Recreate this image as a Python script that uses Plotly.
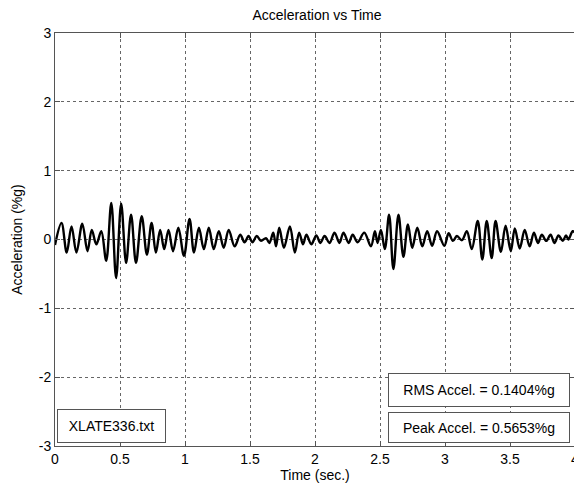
import plotly.graph_objects as go

# Extrema (time in sec., acceleration in %g)
time_s = [0.000, 0.050, 0.090, 0.127, 0.165, 0.210, 0.250, 0.283, 0.318, 0.356,
          0.394, 0.433, 0.470, 0.509, 0.547, 0.585, 0.623, 0.667, 0.707, 0.743,
          0.776, 0.809, 0.840, 0.873, 0.908, 0.949, 0.992, 1.035, 1.069, 1.107,
          1.145, 1.183, 1.221, 1.260, 1.298, 1.336, 1.382, 1.425, 1.458, 1.489,
          1.519, 1.552, 1.585, 1.623, 1.649, 1.679, 1.700, 1.725, 1.761, 1.807,
          1.845, 1.878, 1.908, 1.934, 1.972, 2.010, 2.041, 2.074, 2.112, 2.150,
          2.188, 2.219, 2.259, 2.290, 2.328, 2.379, 2.430, 2.461, 2.481, 2.507,
          2.537, 2.570, 2.603, 2.642, 2.680, 2.715, 2.748, 2.787, 2.825, 2.863,
          2.901, 2.939, 2.995, 3.028, 3.061, 3.092, 3.130, 3.168, 3.206, 3.252,
          3.287, 3.321, 3.359, 3.389, 3.430, 3.466, 3.506, 3.537, 3.575, 3.613,
          3.651, 3.684, 3.715, 3.745, 3.779, 3.812, 3.842, 3.873, 3.906, 3.931,
          3.949, 3.982, 4.000]
accel_pct_g = [-0.08, 0.24, -0.19, 0.19, -0.19, 0.23, -0.17, 0.14, -0.07, 0.12,
               -0.31, 0.53, -0.56, 0.52, -0.34, 0.36, -0.34, 0.34, -0.22, 0.24,
               -0.19, 0.14, -0.14, 0.14, -0.17, 0.17, -0.24, 0.30, -0.19, 0.17,
               -0.14, 0.17, -0.14, 0.12, -0.12, 0.14, -0.10, 0.07, -0.04, 0.05,
               -0.04, 0.05, -0.02, 0.02, -0.05, 0.10, -0.10, 0.17, -0.12, 0.19,
               -0.19, 0.10, -0.07, 0.07, -0.07, 0.06, -0.05, 0.05, -0.05, 0.10,
               -0.05, 0.10, -0.05, 0.07, -0.04, 0.10, -0.10, 0.12, -0.05, 0.14,
               -0.14, 0.36, -0.43, 0.36, -0.25, 0.22, -0.12, 0.17, -0.10, 0.12,
               -0.09, 0.12, -0.09, 0.09, -0.02, 0.05, -0.01, 0.12, -0.14, 0.27,
               -0.29, 0.27, -0.27, 0.27, -0.18, 0.20, -0.17, 0.16, -0.13, 0.14,
               -0.10, 0.10, -0.05, 0.07, -0.02, 0.07, -0.05, 0.06, -0.02, 0.06,
               0.00, 0.12, 0.10]

x_ticks = [0, 0.5, 1, 1.5, 2, 2.5, 3, 3.5, 4]
x_tick_labels = ["0", "0.5", "1", "1.5", "2", "2.5", "3", "3.5", "4"]
y_ticks = [-3, -2, -1, 0, 1, 2, 3]
y_tick_labels = ["-3", "-2", "-1", "0", "1", "2", "3"]

file_label = "XLATE336.txt"
rms_label = "RMS Accel. = 0.1404%g"
peak_label = "Peak Accel. = 0.5653%g"

FONT = "Liberation Sans, Arial, Helvetica, sans-serif"
FS = 14

fig = go.Figure()
fig.add_trace(go.Scatter(
    x=time_s, y=accel_pct_g, mode="lines",
    line=dict(color="black", width=2.4, shape="spline", smoothing=1.0),
    hoverinfo="skip", showlegend=False,
))

axis_common = dict(
    showline=True, linecolor="#555555", linewidth=1, mirror="ticks",
    ticks="inside", ticklen=5, tickcolor="#555555",
    showgrid=True, gridcolor="#666666", griddash="dot", gridwidth=1,
    zeroline=False, tickfont=dict(family=FONT, size=FS, color="black"),
    ticklabeloverflow="allow",
)

fig.update_xaxes(range=[0, 4], tickvals=x_ticks, ticktext=x_tick_labels,
                 title=dict(text="Time (sec.)", font=dict(family=FONT, size=FS, color="black"), standoff=4),
                 **axis_common)
fig.update_yaxes(range=[-3, 3], tickvals=y_ticks, ticktext=y_tick_labels,
                 title=dict(text="Acceleration (%g)", font=dict(family=FONT, size=FS, color="black"), standoff=12),
                 **axis_common)

box = dict(showarrow=False, xref="paper", yref="paper", bgcolor="white",
           bordercolor="#555555", borderwidth=1, borderpad=0,
           font=dict(family=FONT, size=FS, color="black"), align="center", valign="middle")

# plot area: 524 x 413 px
fig.add_annotation(text=file_label, x=2 / 524, y=3 / 413, xanchor="left", yanchor="bottom",
                   width=107, height=32, **box)
fig.add_annotation(text=peak_label, x=1 - 5 / 524, y=3 / 413, xanchor="right", yanchor="bottom",
                   width=180, height=29, **box)
fig.add_annotation(text=rms_label, x=1 - 5 / 524, y=39 / 413, xanchor="right", yanchor="bottom",
                   width=180, height=32, **box)

fig.update_layout(
    width=574, height=485,
    margin=dict(l=47, r=3, t=25, b=47),
    paper_bgcolor="white", plot_bgcolor="white",
    title=dict(text="Acceleration vs Time", x=(47 + 262) / 574, xanchor="center",
               yref="container", y=1 - 7 / 485, yanchor="middle",
               font=dict(family=FONT, size=FS, color="black")),
    font=dict(family=FONT, color="black"),
)

fig.write_html("out.html")
